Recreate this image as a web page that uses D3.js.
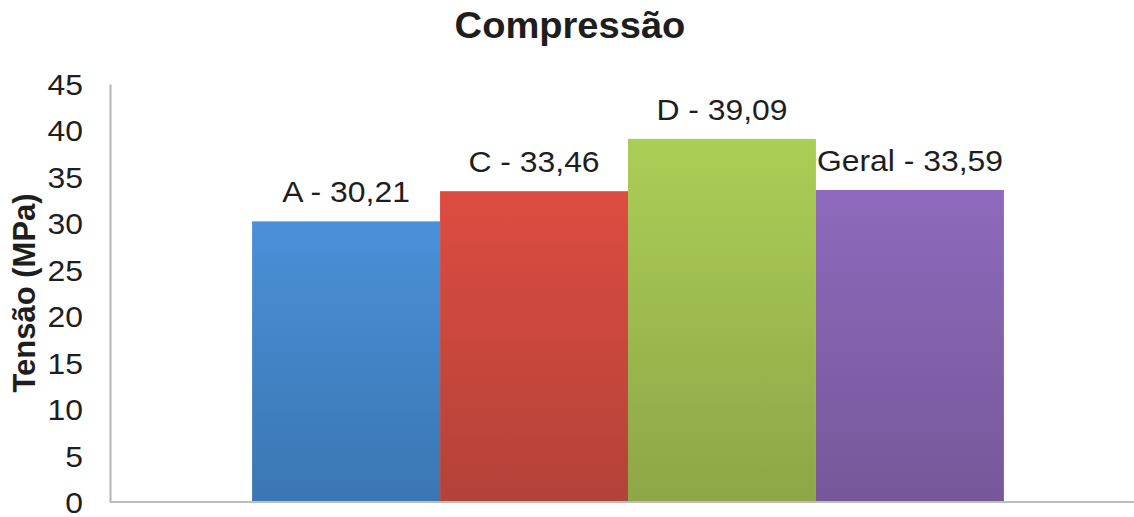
<!DOCTYPE html>
<html>
<head>
<meta charset="utf-8">
<script src="https://cdn.jsdelivr.net/npm/d3@7"></script>
<style>
  html, body { margin: 0; padding: 0; background: #fff; }
  svg { display: block; }
  text { font-family: "Liberation Sans", Arial, Helvetica, sans-serif; fill: #1e1e1e; }
</style>
</head>
<body>
<svg id="chart" width="1134" height="517"></svg>
<script>
// Compressive strength by group
const chartTitle = "Compressão";
const yAxisTitle = "Tensão (MPa)";
const groups = ["A", "C", "D", "Geral"];
const values = [30.21, 33.46, 39.09, 33.59];
const valueLabels = ["A - 30,21", "C - 33,46", "D - 39,09", "Geral - 33,59"];
const yTicks = [0, 5, 10, 15, 20, 25, 30, 35, 40, 45];
const barTop = ["#4a90d9", "#dd4c41", "#abce56", "#8e69bd"];
const barBottom = ["#3a76b2", "#b34238", "#8da647", "#765899"];

const svg = d3.select("#chart");
const W = 1134, H = 517;
const margin = { left: 110, right: -12, top: 84, bottom: 15 };
const widen = 1.1; // horizontal stretch of the lettering

const y = d3.scaleLinear()
  .domain([0, 45])
  .range([H - margin.bottom, margin.top]);

const xOuter = d3.scaleBand()
  .domain(["Compressão"])
  .range([margin.left, W - margin.right])
  .paddingOuter(0.189)
  .paddingInner(0);

const xInner = d3.scaleBand()
  .domain(groups)
  .range([0, xOuter.bandwidth()])
  .padding(0);

// gradients for the bars
const defs = svg.append("defs");
groups.forEach((g, i) => {
  const grad = defs.append("linearGradient")
    .attr("id", "grad" + i)
    .attr("x1", 0).attr("y1", 0).attr("x2", 0).attr("y2", 1);
  grad.append("stop").attr("offset", "0%").attr("stop-color", barTop[i]);
  grad.append("stop").attr("offset", "100%").attr("stop-color", barBottom[i]);
});

// title
svg.append("text")
  .attr("transform", `translate(570,38) scale(1.03,1)`)
  .attr("text-anchor", "middle")
  .style("font-size", "37px")
  .style("font-weight", "bold")
  .text(chartTitle);

// y axis
const yAxis = d3.axisLeft(y)
  .tickValues(yTicks)
  .tickSize(0)
  .tickPadding(26)
  .tickFormat(d3.format("d"));

const gy = svg.append("g")
  .attr("transform", `translate(${margin.left},0)`)
  .call(yAxis);
gy.select(".domain").attr("stroke", "#b4b4b4").attr("stroke-width", 2);
gy.selectAll(".tick text")
  .attr("x", 0)
  .attr("transform", `translate(-27,0) scale(${widen},1)`)
  .style("font-size", "29px")
  .attr("dy", "0.36em")
  .style("fill", "#1e1e1e");

// y axis title
svg.append("text")
  .attr("transform", `translate(35,${(y(0) + y(45)) / 2}) rotate(-90)`)
  .attr("text-anchor", "middle")
  .style("font-size", "31px")
  .style("font-weight", "bold")
  .text(yAxisTitle);

// bars
const gBars = svg.append("g")
  .attr("transform", `translate(${xOuter("Compressão")},0)`);

gBars.selectAll("rect")
  .data(values)
  .join("rect")
  .attr("x", (d, i) => xInner(groups[i]))
  .attr("y", d => y(d))
  .attr("width", xInner.bandwidth())
  .attr("height", d => y(0) - y(d))
  .attr("fill", (d, i) => `url(#grad${i})`);

// value labels
gBars.selectAll("text.val")
  .data(values)
  .join("text")
  .attr("class", "val")
  .attr("transform", (d, i) =>
    `translate(${xInner(groups[i]) + xInner.bandwidth() / 2},${y(d) - 19}) scale(${widen},1)`)
  .attr("text-anchor", "middle")
  .style("font-size", "29px")
  .text((d, i) => valueLabels[i]);

// x axis baseline
svg.append("line")
  .attr("x1", margin.left)
  .attr("x2", W)
  .attr("y1", y(0))
  .attr("y2", y(0))
  .attr("stroke", "#bdbdbd")
  .attr("stroke-width", 2);
</script>
</body>
</html>
